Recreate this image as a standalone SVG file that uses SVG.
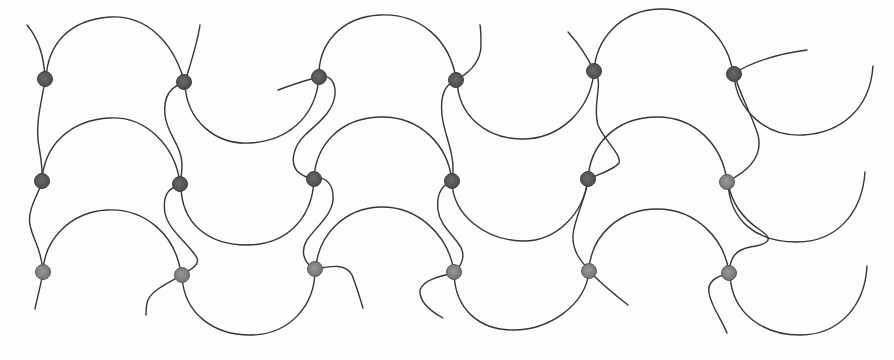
<svg xmlns="http://www.w3.org/2000/svg" width="894" height="360" viewBox="0 0 894 360">
<style>
.c{fill:none;stroke:#353535;stroke-width:1.4;stroke-linecap:round;stroke-linejoin:round}
.d{stroke:#3e3e3e;stroke-width:1;fill:url(#g1)}
.l{stroke:#5a5a5a;stroke-width:1;fill:url(#g2)}
</style>
<defs>
<radialGradient id="g1" cx="0.45" cy="0.45" r="0.6"><stop offset="0" stop-color="#6a6a6a"/><stop offset="1" stop-color="#4a4a4a"/></radialGradient>
<radialGradient id="g2" cx="0.45" cy="0.45" r="0.6"><stop offset="0" stop-color="#9a9a9a"/><stop offset="1" stop-color="#707070"/></radialGradient>
</defs>
<rect width="894" height="360" fill="#fdfdfd"/>
<g id="connectors">
<path class="c" d="M46,78 C48,45 68,20 110,17 C145,15 172,40 184,80"/>
<path class="c" d="M319,77 C318,45 340,17 380,15 C420,13 450,40 456,79"/>
<path class="c" d="M594,71 C596,40 620,10 660,9 C700,8 728,40 733,73"/>
<path class="c" d="M185,83 C186,120 215,145 250,143 C285,141 315,120 319,78"/>
<path class="c" d="M457,80 C458,115 485,138 520,139 C560,140 590,110 594,72"/>
<path class="c" d="M734,75 C737,110 765,137 803,135 C840,133 870,110 873,66"/>
<path class="c" d="M42,181 C44,145 70,120 110,118 C145,116 175,145 180,183"/>
<path class="c" d="M314,178 C316,145 340,118 380,117 C420,116 448,145 452,181"/>
<path class="c" d="M588,179 C590,145 615,118 655,117 C695,116 722,145 727,181"/>
<path class="c" d="M181,185 C181,225 210,245 247,245 C285,245 312,220 314,180"/>
<path class="c" d="M452,182 C453,215 485,240 522,241 C555,242 583,215 588,180"/>
<path class="c" d="M728,183 C730,220 755,242 797,242 C835,242 862,215 865,172"/>
<path class="c" d="M43,272 C44,240 70,212 107,210 C145,208 176,235 181,274"/>
<path class="c" d="M316,268 C318,235 345,208 380,207 C418,206 448,235 454,271"/>
<path class="c" d="M589,270 C591,235 620,209 657,209 C697,209 725,240 729,273"/>
<path class="c" d="M182,276 C184,315 215,335 250,335 C290,335 315,305 315,270"/>
<path class="c" d="M454,273 C455,310 480,330 513,330 C550,330 585,305 589,272"/>
<path class="c" d="M730,275 C732,315 765,335 800,335 C840,335 865,305 867,266"/>
<path class="c" d="M27,25 C38,38 44,55 45,78"/>
<path class="c" d="M45,80 C42,100 36,120 38,140 C40,155 43,165 42,181"/>
<path class="c" d="M42,182 C38,195 27,210 30,225 C33,240 42,250 43,272"/>
<path class="c" d="M43,272 C41,285 37,298 35,309"/>
<path class="c" d="M200,25 C197,45 190,65 185,82"/>
<path class="c" d="M184,83 C172,86 163,95 165,115 C167,135 182,145 182,165 C182,172 181,178 180,184"/>
<path class="c" d="M180,185 C170,188 162,193 165,213 C168,230 190,245 197,258 C200,265 190,270 182,275"/>
<path class="c" d="M182,275 C170,282 152,290 148,300 C146,305 146,310 146,315"/>
<path class="c" d="M278,90 C292,85 305,80 319,77"/>
<path class="c" d="M320,76 C330,75 336,82 335,95 C333,112 318,123 305,135 C293,147 290,162 297,171 C302,176 308,178 314,179"/>
<path class="c" d="M315,178 C326,177 334,184 333,200 C332,215 315,228 307,240 C301,250 302,262 315,269"/>
<path class="c" d="M316,269 C328,267 345,262 352,275 C356,285 360,298 363,308"/>
<path class="c" d="M458,79 C470,72 481,62 481,45 C481,37 481,30 480,25"/>
<path class="c" d="M456,81 C445,84 440,95 442,115 C444,135 454,150 453,170 C453,175 452,178 452,181"/>
<path class="c" d="M452,182 C443,184 436,193 438,210 C440,228 458,238 462,250 C465,260 460,267 454,272"/>
<path class="c" d="M454,273 C440,276 423,280 420,290 C419,302 432,312 443,318"/>
<path class="c" d="M568,32 C578,43 588,58 594,71"/>
<path class="c" d="M596,73 C603,85 592,105 598,125 C604,140 622,155 619,163 C614,170 598,174 589,179"/>
<path class="c" d="M588,180 C585,200 574,220 573,235 C572,252 582,262 589,270"/>
<path class="c" d="M590,272 C600,282 615,295 628,305"/>
<path class="c" d="M735,73 C748,64 775,54 807,50"/>
<path class="c" d="M735,76 C740,95 752,115 758,135 C763,155 750,170 728,181"/>
<path class="c" d="M728,183 C732,205 745,220 760,230 C775,240 768,244 750,247 C735,250 730,258 729,273"/>
<path class="c" d="M728,274 C716,276 707,282 709,293 C711,306 722,320 727,333"/>
</g>
<g id="n1"><circle class="d" cx="45" cy="79" r="7.5"/></g>
<g id="n2"><circle class="d" cx="184" cy="82" r="7.5"/></g>
<g id="n3"><circle class="d" cx="319" cy="77" r="7.5"/></g>
<g id="n4"><circle class="d" cx="456" cy="80" r="7.5"/></g>
<g id="n5"><circle class="d" cx="594" cy="71" r="7.5"/></g>
<g id="n6"><circle class="d" cx="734" cy="74" r="7.5"/></g>
<g id="n7"><circle class="d" cx="42" cy="181" r="7.5"/></g>
<g id="n8"><circle class="d" cx="180" cy="184" r="7.5"/></g>
<g id="n9"><circle class="d" cx="314" cy="179" r="7.5"/></g>
<g id="n10"><circle class="d" cx="452" cy="181" r="7.5"/></g>
<g id="n11"><circle class="d" cx="588" cy="179" r="7.5"/></g>
<g id="n12"><circle class="l" cx="727" cy="182" r="7.5"/></g>
<g id="n13"><circle class="l" cx="43" cy="272" r="7.5"/></g>
<g id="n14"><circle class="l" cx="182" cy="275" r="7.5"/></g>
<g id="n15"><circle class="l" cx="315" cy="269" r="7.5"/></g>
<g id="n16"><circle class="l" cx="454" cy="272" r="7.5"/></g>
<g id="n17"><circle class="l" cx="589" cy="271" r="7.5"/></g>
<g id="n18"><circle class="l" cx="729" cy="273" r="7.5"/></g>
</svg>
